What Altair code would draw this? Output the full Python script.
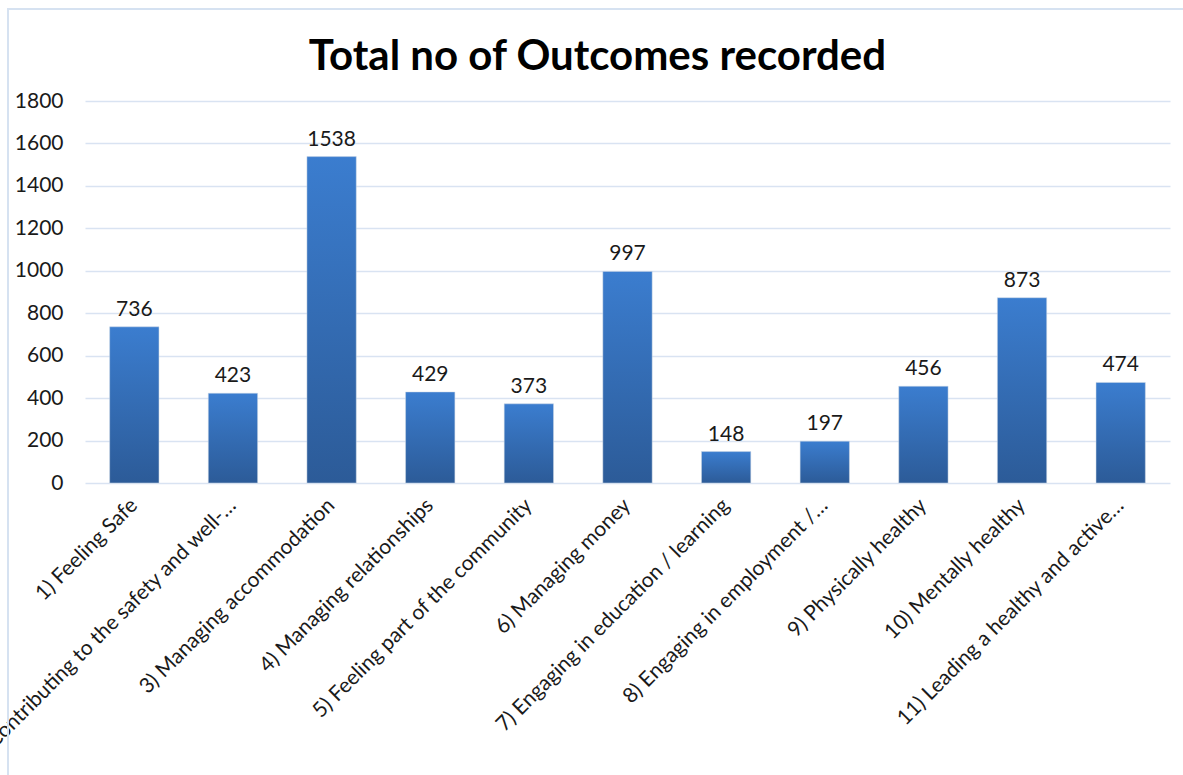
import altair as alt
import pandas as pd

categories = [
    "1) Feeling Safe",
    "2) Contributing to the safety and well-…",
    "3) Managing accommodation",
    "4) Managing relationships",
    "5) Feeling part of the community",
    "6) Managing money",
    "7) Engaging in education / learning",
    "8) Engaging in employment /…",
    "9) Physically healthy",
    "10) Mentally healthy",
    "11) Leading a healthy and active…",
]
values = [736, 423, 1538, 429, 373, 997, 148, 197, 456, 873, 474]
y_ticks = [0, 200, 400, 600, 800, 1000, 1200, 1400, 1600, 1800]

df = pd.DataFrame({"cat": categories, "val": values})
FONT = "Lato"

gradient = alt.Gradient(
    gradient="linear",
    stops=[alt.GradientStop(color="#3B7DCF", offset=0),
           alt.GradientStop(color="#2C5B98", offset=1)],
    x1=0, x2=0, y1=0, y2=1,
)

x = alt.X("cat:N", sort=categories, title=None,
          scale=alt.Scale(paddingInner=0.5, paddingOuter=0.25),
          axis=alt.Axis(labelAngle=-45, labelFontSize=21, labelFont=FONT,
                        labelColor="#1a1a1a", labelPadding=19, ticks=False,
                        domain=False, labelLimit=0, labelAlign="right",
                        labelBaseline="middle"))
y = alt.Y("val:Q", title=None,
          scale=alt.Scale(domain=[0, 1800], nice=False),
          axis=alt.Axis(values=y_ticks, format="d", labelFontSize=21, labelFont=FONT,
                        labelColor="#1a1a1a", ticks=False, domain=False,
                        labelPadding=22, gridColor="#D9E3F2", gridWidth=1.5))

frame = alt.Chart(df).mark_rect(fill=None, stroke="#D6E2F1", strokeWidth=2, clip=False).encode(
    x=alt.value(-77), x2=alt.value(1120), y=alt.value(-92), y2=alt.value(720)
)

bars = alt.Chart(df).mark_bar(fill=gradient, stroke="#CFD8E4", strokeWidth=0.5).encode(x=x, y=y)
labels = alt.Chart(df).mark_text(dy=-17, fontSize=21, font=FONT, color="#1a1a1a").encode(
    x=alt.X("cat:N", sort=categories), y="val:Q", text="val:Q")

chart = alt.layer(frame, bars, labels).properties(
    width=1085, height=382,
    background="white",
    title=alt.TitleParams("Total no of Outcomes recorded", fontSize=42, font=FONT,
                          fontWeight="bold", color="#000000", offset=0, dy=104, dx=-30,
                          baseline="alphabetic", anchor="middle"),
    padding={"left": 85, "top": 101, "right": 13, "bottom": 292},
    autosize=alt.AutoSizeParams(type="none"),
).configure_view(strokeWidth=0, stroke="transparent")

chart.save("out.html", embed_options={"renderer": "svg", "actions": False})
